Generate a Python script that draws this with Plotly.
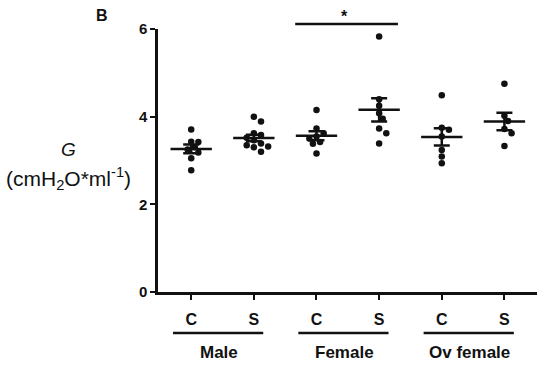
import numpy as np
import plotly.graph_objects as go

# ---- data ----
groups = ["Male", "Female", "Ov female"]
conditions = ["C", "S"]
male_c = [3.71, 3.43, 3.42, 3.30, 3.25, 3.18, 3.05, 2.78]
male_s = [4.00, 3.89, 3.62, 3.58, 3.52, 3.46, 3.39, 3.35, 3.32, 3.30, 3.20]
female_c = [4.15, 3.73, 3.62, 3.55, 3.50, 3.42, 3.38, 3.16]
female_s = [5.83, 4.40, 4.25, 4.08, 3.95, 3.73, 3.62, 3.39]
ov_c = [4.49, 3.75, 3.70, 3.55, 3.24, 3.09, 2.94]
ov_s = [4.75, 4.02, 3.90, 3.72, 3.62, 3.33]
series = [male_c, male_s, female_c, female_s, ov_c, ov_s]
tick_labels = ["C", "S", "C", "S", "C", "S"]
y_ticks = [0, 2, 4, 6]
sig_pair = (2, 3)  # Female C vs Female S
sig_text = "*"

# ---- layout geometry ----
W, H = 552, 369
ml, mr, mt, mb = 158, 15, 29, 77
x_range = [-0.53, 5.52]
y_range = [0, 6]
px_per_x = (W - ml - mr) / (x_range[1] - x_range[0])
px_per_y = (H - mt - mb) / (y_range[1] - y_range[0])
dot = 6.5  # marker diameter in px

def swarm(vals, center):
    """simple beeswarm: offsets computed so dots don't overlap."""
    placed = []
    xs = [None] * len(vals)
    order = np.argsort(vals)[::-1]
    for i in order:
        py = vals[i] * px_per_y
        k = 0
        while True:
            cands = [0.0] if k == 0 else [k * dot * 0.55, -k * dot * 0.55]
            ok = None
            for c in cands:
                if all((c - ox) ** 2 + (py - oy) ** 2 >= (dot * 0.95) ** 2 for ox, oy in placed):
                    ok = c
                    break
            if ok is not None:
                placed.append((ok, py))
                xs[i] = center + ok / px_per_x
                break
            k += 1
    return xs

fig = go.Figure()
ink = "#111111"
fam = "Liberation Sans, Arial"
for i, vals in enumerate(series):
    xs = swarm(vals, i)
    fig.add_trace(go.Scatter(x=xs, y=vals, mode="markers",
                             marker=dict(size=dot, color=ink), showlegend=False,
                             hoverinfo="y"))
    m = float(np.mean(vals))
    sem = float(np.std(vals, ddof=1) / np.sqrt(len(vals)))
    fig.add_trace(go.Scatter(x=[i - 0.33, i + 0.33], y=[m, m], mode="lines",
                             line=dict(color=ink, width=2.5), showlegend=False,
                             hoverinfo="skip"))
    fig.add_trace(go.Scatter(x=[i], y=[m], mode="markers",
                             marker=dict(size=1, color="rgba(0,0,0,0)"),
                             error_y=dict(type="data", array=[sem], visible=True,
                                          color=ink, thickness=2.5, width=8),
                             showlegend=False, hoverinfo="skip"))

# group underlines and labels
for g, name in enumerate(groups):
    c0 = 2 * g
    fig.add_shape(type="line", xref="x", yref="paper",
                  x0=c0 - 0.29, x1=c0 + 1.15, y0=-0.156, y1=-0.156,
                  line=dict(color=ink, width=2.5))
    fig.add_annotation(x=c0 + 0.45, y=-0.23, xref="x", yref="paper",
                       text="<b>%s</b>" % name, showarrow=False,
                       font=dict(size=17, color=ink, family=fam),
                       xanchor="center", yanchor="middle")

# significance bar
a, b = sig_pair
fig.add_shape(type="line", xref="x", yref="paper",
              x0=a - 0.34, x1=b + 0.3, y0=1.019, y1=1.019,
              line=dict(color=ink, width=2.5))
fig.add_annotation(x=(a + b) / 2 - 0.05, y=1.046, xref="x", yref="paper",
                   text="<b>%s</b>" % sig_text, showarrow=False,
                   xanchor="center", yanchor="middle",
                   font=dict(size=16, color=ink, family=fam))

# y title
fig.add_annotation(x=-0.237, y=0.54, xref="paper", yref="paper",
                   text="<i>G</i>", showarrow=False,
                   xanchor="center", yanchor="middle",
                   font=dict(size=19, color=ink, family=fam))
fig.add_annotation(x=-0.237, y=0.433, xref="paper", yref="paper",
                   text="(cmH<sub>2</sub>O*ml<sup>-1</sup>)", showarrow=False,
                   xanchor="center", yanchor="middle",
                   font=dict(size=21, color=ink, family=fam))
# panel letter
fig.add_annotation(x=-0.148, y=1.053, xref="paper", yref="paper",
                   text="<b>B</b>", showarrow=False,
                   xanchor="center", yanchor="middle",
                   font=dict(size=16, color=ink, family=fam))

fig.update_layout(
    width=W, height=H,
    margin=dict(l=ml, r=mr, t=mt, b=mb),
    paper_bgcolor="white", plot_bgcolor="white",
    font=dict(family=fam, color=ink),
    xaxis=dict(range=x_range, tickvals=list(range(6)),
               ticktext=["<b>%s</b>" % t for t in tick_labels],
               tickfont=dict(size=16), showline=True, linecolor=ink, linewidth=2.5,
               ticks="outside", ticklen=5, tickwidth=2, tickcolor=ink,
               showgrid=False, zeroline=False, ticklabelstandoff=6),
    yaxis=dict(range=y_range, tickvals=y_ticks,
               ticktext=["<b>%d</b>" % v for v in y_ticks],
               tickfont=dict(size=15), showline=True, linecolor=ink, linewidth=2.5,
               ticks="outside", ticklen=5, tickwidth=2, tickcolor=ink,
               showgrid=False, zeroline=False),
)

fig.write_html("out.html", config={"displayModeBar": False},
               post_script="document.body.style.margin='0px';")
